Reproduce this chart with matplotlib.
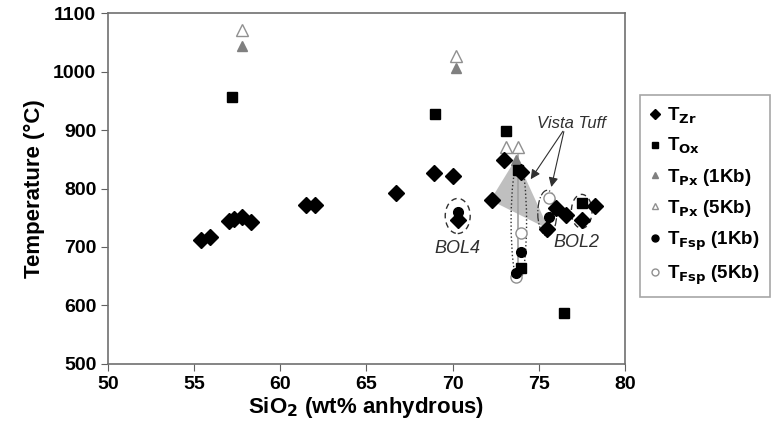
import matplotlib
matplotlib.use('Agg')
import matplotlib.pyplot as plt
from matplotlib.patches import Ellipse, Polygon
from matplotlib.lines import Line2D

plt.rcParams['font.family'] = ['Liberation Sans', 'DejaVu Sans']
plt.rcParams['font.weight'] = 'bold'
plt.rcParams['mathtext.default'] = 'bf'

# data
zr_x = [55.4, 55.9, 57.0, 57.3, 57.8, 58.3, 61.5, 62.0, 66.7, 68.9, 70.0,
        72.3, 73.0, 74.0, 70.3, 75.5, 76.0, 76.6, 77.5, 78.3]
zr_y = [712, 717, 745, 748, 752, 742, 771, 771, 793, 827, 822,
        780, 849, 828, 746, 731, 767, 755, 746, 770]

ox_x = [57.2, 69.0, 73.1, 73.8, 74.0, 77.5, 76.5]
ox_y = [956, 927, 898, 832, 664, 775, 587]

px1_x = [57.8, 70.2, 73.7]
px1_y = [1044, 1007, 849]

px5_x = [57.8, 70.2, 73.1, 73.8]
px5_y = [1071, 1027, 871, 871]

fsp1_x = [70.3, 75.6, 74.0, 73.7]
fsp1_y = [760, 751, 691, 656]

fsp5_x = [75.6, 74.0, 73.7]
fsp5_y = [784, 724, 648]

vista_poly = [(72.2, 780), (73.7, 852), (75.6, 730)]

fig = plt.figure(figsize=(7.78, 4.40), dpi=100)
ax = fig.add_axes([0.139, 0.173, 0.664, 0.797])

ax.add_patch(Polygon(vista_poly, closed=True, facecolor='#b0b0b0',
                     edgecolor='none', alpha=0.8, zorder=1))
ax.plot([73.8, 73.8], [858, 652], color='#a0a0a0', lw=1.2, zorder=1)

# ellipses round the groups
ax.add_patch(Ellipse((70.3, 753), 1.45, 60, fill=False, ls=(0, (4, 3)),
                     lw=1.0, ec='#303030', zorder=2))
ax.add_patch(Ellipse((77.5, 761), 1.2, 58, fill=False, ls=(0, (4, 3)),
                     lw=1.0, ec='#303030', zorder=2))
ax.add_patch(Ellipse((75.5, 758), 1.1, 78, fill=False, ls='-.',
                     lw=0.9, ec='#303030', zorder=2))
ax.add_patch(Ellipse((73.85, 743), 0.9, 205, fill=False, ls=':',
                     lw=1.0, ec='#303030', zorder=2))

ax.plot(zr_x, zr_y, 'D', color='black', ms=8, ls='none', zorder=4)
ax.plot(ox_x, ox_y, 's', color='black', ms=7, ls='none', zorder=4)
ax.plot(px1_x, px1_y, '^', color='#808080', ms=7, ls='none', zorder=3)
ax.plot(px5_x, px5_y, '^', mfc='white', mec='#909090', ms=8, ls='none', zorder=3)
ax.plot(fsp1_x, fsp1_y, 'o', color='black', ms=7, ls='none', zorder=5)
ax.plot(fsp5_x, fsp5_y, 'o', mfc='white', mec='#909090', ms=8, ls='none', zorder=3)

# annotations
for tip in [(74.45, 812), (75.7, 798)]:
    ax.annotate('', xy=tip, xytext=(76.5, 902),
                arrowprops=dict(arrowstyle='-|>', color='#303030', lw=0.8,
                                mutation_scale=14))
ax.text(76.9, 912, 'Vista Tuff', style='italic', fontweight='normal',
        fontsize=12, color='#303030', ha='center', va='center')
ax.text(70.3, 698, 'BOL4', style='italic', fontweight='normal',
        fontsize=13, color='#303030', ha='center', va='center')
ax.text(77.2, 708, 'BOL2', style='italic', fontweight='normal',
        fontsize=13, color='#303030', ha='center', va='center')

ax.set_xlim(50, 80)
ax.set_ylim(500, 1100)
ax.set_xticks(range(50, 81, 5))
ax.set_yticks(range(500, 1101, 100))
ax.tick_params(labelsize=14, direction='out', length=5, color='#606060')
for lab in ax.get_xticklabels() + ax.get_yticklabels():
    lab.set_fontweight('bold')
for sp in ax.spines.values():
    sp.set_color('#707070')
    sp.set_linewidth(1.2)

ax.set_xlabel(r'SiO$_2$ (wt% anhydrous)', fontsize=16, fontweight='bold', labelpad=2)
ax.set_ylabel(u'Temperature (\u00b0C)', fontsize=16, fontweight='bold', labelpad=6)

handles = [
    Line2D([], [], marker='D', color='black', ls='none', ms=5),
    Line2D([], [], marker='s', color='black', ls='none', ms=5),
    Line2D([], [], marker='^', color='#808080', ls='none', ms=5),
    Line2D([], [], marker='^', mfc='white', mec='#909090', ls='none', ms=5),
    Line2D([], [], marker='o', color='black', ls='none', ms=5),
    Line2D([], [], marker='o', mfc='white', mec='#909090', ls='none', ms=5),
]
labels = [r'T$_{Zr}$', r'T$_{Ox}$', r'T$_{Px}$ (1Kb)', r'T$_{Px}$ (5Kb)',
          r'T$_{Fsp}$ (1Kb)', r'T$_{Fsp}$ (5Kb)']
leg = fig.legend(handles, labels, loc='upper left', bbox_to_anchor=(0.81, 0.805),
                 fontsize=13.5, frameon=True, fancybox=False, handlelength=0.6,
                 handletextpad=0.3, labelspacing=0.55, borderpad=0.55)
leg.get_frame().set_edgecolor('#909090')
leg.get_frame().set_linewidth(1.2)
for t in leg.get_texts():
    t.set_fontweight('bold')

fig.savefig('out.png', dpi=100)
